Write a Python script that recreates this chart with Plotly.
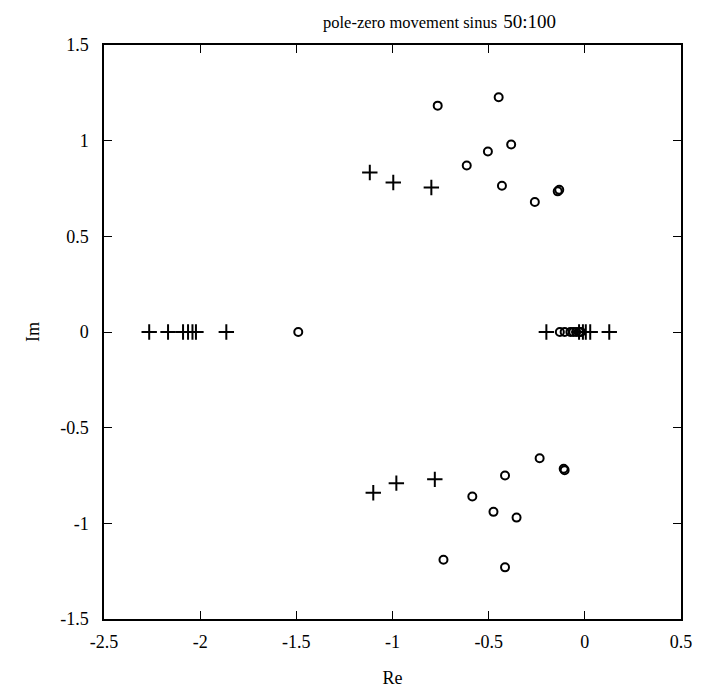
import plotly.graph_objects as go

# Poles (+) and zeros (o)
pole_re = [-1.118, -0.996, -0.798,
           -2.265, -2.167, -2.089, -2.063, -2.040, -2.022, -1.864,
           -0.200, -0.030, -0.010, 0.005, 0.028, 0.127,
           -1.100, -0.980, -0.780]
pole_im = [0.834, 0.781, 0.755,
           0, 0, 0, 0, 0, 0, 0,
           0, 0, 0, 0, 0, 0,
           -0.840, -0.790, -0.770]

zero_re = [-0.765, -0.448, -0.383, -0.504, -0.614, -0.431, -0.260, -0.141, -0.133,
           -1.490, -0.130, -0.105, -0.075, -0.060, -0.045, -0.030, -0.020,
           -0.735, -0.415, -0.355, -0.475, -0.585, -0.415, -0.235, -0.110, -0.105]
zero_im = [1.183, 1.227, 0.980, 0.943, 0.870, 0.764, 0.679, 0.735, 0.743,
           0, 0, 0, 0, 0, 0, 0, 0,
           -1.190, -1.230, -0.970, -0.940, -0.860, -0.750, -0.660, -0.715, -0.722]

x_ticks = [-2.5, -2, -1.5, -1, -0.5, 0, 0.5]
x_labels = ["-2.5", "-2", "-1.5", "-1", "-0.5", "0", "0.5"]
y_ticks = [-1.5, -1, -0.5, 0, 0.5, 1, 1.5]
y_labels = ["-1.5", "-1", "-0.5", "0", "0.5", "1", "1.5"]

FONT = "Liberation Serif, Times New Roman, serif"

fig = go.Figure()
fig.add_trace(go.Scatter(x=pole_re, y=pole_im, mode="markers",
                         marker=dict(symbol="cross-thin", size=11,
                                     line=dict(color="black", width=2)),
                         showlegend=False))
fig.add_trace(go.Scatter(x=zero_re, y=zero_im, mode="markers",
                         marker=dict(symbol="circle-open", size=8, color="black",
                                     line=dict(color="black", width=2)),
                         showlegend=False))

axis_common = dict(showgrid=False, zeroline=False, showline=True, linecolor="black",
                   linewidth=1.5, mirror="ticks", ticks="inside", ticklen=8,
                   tickwidth=1.3, tickcolor="black",
                   tickfont=dict(family=FONT, size=18, color="black"))

fig.update_layout(
    width=696, height=690,
    margin=dict(l=96, r=21, t=37, b=79),
    paper_bgcolor="white", plot_bgcolor="white",
    xaxis=dict(range=[-2.5, 0.5], tickvals=x_ticks, ticktext=x_labels,
               ticklabelstandoff=6,
               title=dict(text="Re", font=dict(family=FONT, size=18, color="black"),
                          standoff=20),
               **axis_common),
    yaxis=dict(range=[-1.5, 1.5], tickvals=y_ticks, ticktext=y_labels,
               ticklabelstandoff=10,
               title=dict(text="Im", font=dict(family=FONT, size=18, color="black"),
                          standoff=16),
               **axis_common),
    annotations=[dict(text="<span style='font-size:16.5px'>pole-zero movement sinus</span>"
                           "&nbsp;&nbsp;<span style='font-size:19px'>50:100</span>",
                      xref="paper", yref="paper", x=0.582, y=1.062,
                      xanchor="center", yanchor="top", showarrow=False,
                      font=dict(family=FONT, color="black"))],
)

fig.write_html("out.html")
